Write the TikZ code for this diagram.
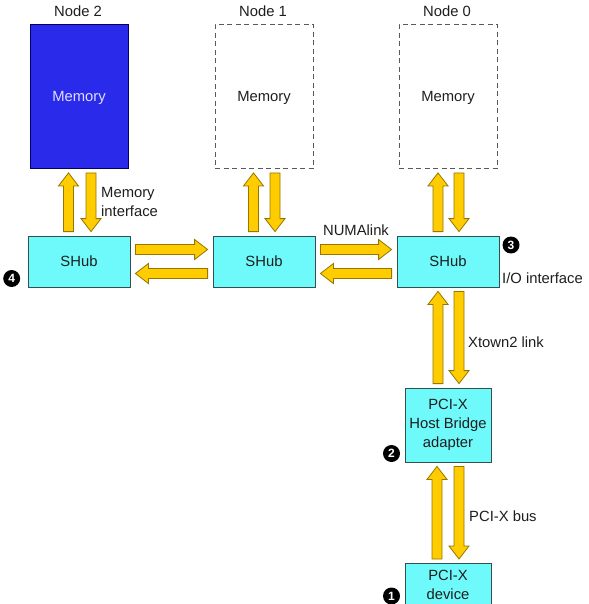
\documentclass[tikz,border=0pt]{standalone}
\usepackage{fontspec}
\setmainfont{Liberation Sans}
\usetikzlibrary{calc}
\definecolor{arrfill}{RGB}{255,204,0}
\definecolor{arrline}{RGB}{150,118,0}
\definecolor{hubfill}{RGB}{110,250,250}
\definecolor{hubline}{RGB}{50,80,80}
\definecolor{memblue}{RGB}{42,42,235}
\definecolor{memtext}{RGB}{222,222,255}
\definecolor{txt}{RGB}{30,30,30}
\tikzset{
  every node/.style={font=\fontsize{14.8bp}{19bp}\selectfont, text=txt, inner sep=0pt},
  membox/.style={draw=gray!70!black, dashed, dash pattern=on 5bp off 3.5bp, line width=0.8bp, minimum width=98bp, minimum height=144bp, text depth=0pt},
  memfull/.style={draw=black!60!blue, fill=memblue, line width=0.8bp, minimum width=98bp, minimum height=144bp, text=memtext, text depth=0pt},
  hubbox/.style={draw=hubline, fill=hubfill, line width=0.8bp, minimum width=102bp, minimum height=51bp, align=center},
  iobox/.style={draw=hubline, fill=hubfill, line width=0.8bp, minimum width=86bp, align=center},
  badge/.style={circle, fill=black, minimum size=17bp, text=white, font=\fontsize{12bp}{12bp}\selectfont\bfseries},
  fatstyle/.style={fill=arrfill, draw=arrline, line width=0.8bp, line join=miter}
}
\newcommand\fatarr[2]{%
  \path (#1) coordinate (fa-s) (#2) coordinate (fa-e);
  \path ($(fa-e)!13bp!(fa-s)$) coordinate (fa-t);
  \filldraw[fatstyle] ($(fa-s)!5bp!90:(fa-e)$) -- ($(fa-t)!5bp!-90:(fa-s)$) -- ($(fa-t)!10bp!-90:(fa-s)$) -- (fa-e) -- ($(fa-t)!10bp!90:(fa-s)$) -- ($(fa-t)!5bp!90:(fa-s)$) -- ($(fa-s)!5bp!-90:(fa-e)$) -- cycle;}
\begin{document}
\begin{tikzpicture}[x=1bp,y=-1bp]
\clip (0,0) rectangle (589,604);
% memory boxes
\node[memfull] (mem2) at (79,96.5) {Memory};
\node[membox] (mem1) at (264,96.5) {Memory};
\node[membox] (mem0) at (448,96.5) {Memory};
\node (lab2) at (78,11) {Node 2};
\node (lab1) at (263,11) {Node 1};
\node (lab0) at (447,11) {Node 0};
% hubs
\node[hubbox] (shub2) at (79,261.5) {SHub};
\node[hubbox] (shub1) at (264,261.5) {SHub};
\node[hubbox] (shub0) at (448,261.5) {SHub};
\node[iobox, minimum height=74bp] (bridge) at (448,425) {PCI-X\\Host Bridge\\adapter};
\node[iobox, minimum height=60bp, anchor=north] (dev) at (448,563) {};
\node (devtext) at (448,584.5) [align=center] {PCI-X\\device};
% arrows memory <-> hub
\fatarr{$(shub2.north)+(-10.5,-4)$}{$(mem2.south)+(-10.5,4)$}
\fatarr{$(mem2.south)+(12,4)$}{$(shub2.north)+(12,-4)$}
\fatarr{$(shub1.north)+(-10.5,-4)$}{$(mem1.south)+(-10.5,4)$}
\fatarr{$(mem1.south)+(11,4)$}{$(shub1.north)+(11,-4)$}
\fatarr{$(shub0.north)+(-10,-4)$}{$(mem0.south)+(-10,4)$}
\fatarr{$(mem0.south)+(11,4)$}{$(shub0.north)+(11,-4)$}
% hub <-> hub
\fatarr{$(shub2.east)+(5,-12)$}{$(shub1.west)+(-5,-12)$}
\fatarr{$(shub1.west)+(-5,12)$}{$(shub2.east)+(5,12)$}
\fatarr{$(shub1.east)+(5,-12)$}{$(shub0.west)+(-5,-12)$}
\fatarr{$(shub0.west)+(-5,12)$}{$(shub1.east)+(5,12)$}
% hub <-> bridge
\fatarr{$(bridge.north)+(-10,-4)$}{$(shub0.south)+(-10,4)$}
\fatarr{$(shub0.south)+(11,4)$}{$(bridge.north)+(11,-4)$}
% bridge <-> device
\fatarr{$(dev.north)+(-11,-4)$}{$(bridge.south)+(-11,4)$}
\fatarr{$(bridge.south)+(11,4)$}{$(dev.north)+(11,-4)$}
% labels
\node[anchor=west, align=left] (memif) at (101,201.5) {Memory\\interface};
\node (numa) at (356,230) {NUMAlink};
\node[anchor=west] (ioif) at (502,278.5) {I/O interface};
\node[anchor=west] (xtown) at (468,342) {Xtown2 link};
\node[anchor=west] (pcibus) at (469,516) {PCI-X bus};
% badges
\node[badge] (b1) at (391.5,596) {1};
\node[badge] (b2) at (391.5,453.5) {2};
\node[badge] (b3) at (511,245) {3};
\node[badge] (b4) at (11.7,278.5) {4};
\end{tikzpicture}
\end{document}
